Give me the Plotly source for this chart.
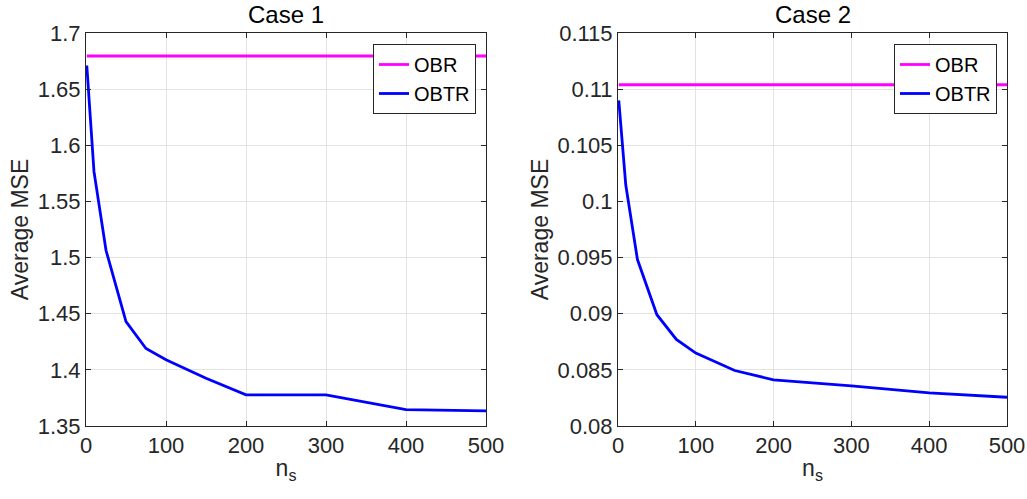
import plotly.graph_objects as go

ns = [1, 10, 25, 50, 75, 100, 150, 200, 300, 400, 500]
obtr_case1 = [1.671, 1.5765, 1.5065, 1.443, 1.419, 1.409, 1.3926, 1.3777, 1.3777, 1.3646, 1.3635]
obr_case1 = [1.6795] * len(ns)
obtr_case2 = [0.10899, 0.10146, 0.09482, 0.08991, 0.08771, 0.08649, 0.08494, 0.08411, 0.08357, 0.08295, 0.08256]
obr_case2 = [0.11039] * len(ns)

yticks1 = [1.35, 1.4, 1.45, 1.5, 1.55, 1.6, 1.65, 1.7]
yticks2 = [0.08, 0.085, 0.09, 0.095, 0.1, 0.105, 0.11, 0.115]
xticks = [0, 100, 200, 300, 400, 500]

FONT = "Liberation Sans"
W, H = 1027, 499


def px(x):
    return x / W


def py(y):
    return 1 - y / H


LW = 2.8
fig = go.Figure()
fig.add_trace(go.Scatter(x=ns, y=obr_case1, mode="lines", name="OBR",
                         line=dict(color="#ff00ff", width=LW), xaxis="x", yaxis="y", legend="legend"))
fig.add_trace(go.Scatter(x=ns, y=obtr_case1, mode="lines", name="OBTR",
                         line=dict(color="#0000ff", width=LW), xaxis="x", yaxis="y", legend="legend"))
fig.add_trace(go.Scatter(x=ns, y=obr_case2, mode="lines", name="OBR",
                         line=dict(color="#ff00ff", width=LW), xaxis="x2", yaxis="y2", legend="legend2"))
fig.add_trace(go.Scatter(x=ns, y=obtr_case2, mode="lines", name="OBTR",
                         line=dict(color="#0000ff", width=LW), xaxis="x2", yaxis="y2", legend="legend2"))

ydom = [py(426), py(33)]
xdom1 = [px(86), px(486)]
xdom2 = [px(618), px(1007)]

axis_common = dict(showline=True, linecolor="#262626", linewidth=1, mirror="ticks",
                   ticks="inside", ticklen=5, tickcolor="#262626", automargin=False,
                   showgrid=True, gridcolor="#e3e3e3", gridwidth=1, zeroline=False,
                   tickfont=dict(family=FONT, size=22, color="#262626"))

xtitle = dict(text="n<sub>s</sub>", font=dict(size=23, family=FONT, color="#262626"), standoff=2)
ytitle = dict(text="Average MSE", font=dict(size=23, family=FONT, color="#262626"), standoff=2)

legend_common = dict(y=py(44), xanchor="right", yanchor="top",
                     bgcolor="white", bordercolor="#262626", borderwidth=1,
                     font=dict(family=FONT, size=20, color="black"), itemwidth=30,
                     tracegroupgap=0)

fig.update_layout(
    width=W, height=H,
    margin=dict(l=0, r=0, t=0, b=0, autoexpand=False),
    paper_bgcolor="white", plot_bgcolor="white",
    font=dict(family=FONT, color="#262626"),
    xaxis=dict(domain=xdom1, range=[0, 500], tickvals=xticks, anchor="y", title=xtitle, **axis_common),
    yaxis=dict(domain=ydom, range=[1.35, 1.7], tickvals=yticks1, anchor="x", title=ytitle, **axis_common),
    xaxis2=dict(domain=xdom2, range=[0, 500], tickvals=xticks, anchor="y2", title=xtitle, **axis_common),
    yaxis2=dict(domain=ydom, range=[0.08, 0.115], tickvals=yticks2, anchor="x2", title=ytitle, **axis_common),
    legend=dict(x=px(476), **legend_common),
    legend2=dict(x=px(997), **legend_common),
    showlegend=True,
    annotations=[
        dict(text="Case 1", x=(xdom1[0] + xdom1[1]) / 2, y=py(14), xref="paper", yref="paper",
             showarrow=False, font=dict(family=FONT, size=24, color="black"), xanchor="center", yanchor="middle"),
        dict(text="Case 2", x=(xdom2[0] + xdom2[1]) / 2, y=py(14), xref="paper", yref="paper",
             showarrow=False, font=dict(family=FONT, size=24, color="black"), xanchor="center", yanchor="middle"),
    ],
)

fig.write_html("out.html", config={"displayModeBar": False},
               post_script="document.body.style.margin='0';document.body.style.overflow='hidden';")
